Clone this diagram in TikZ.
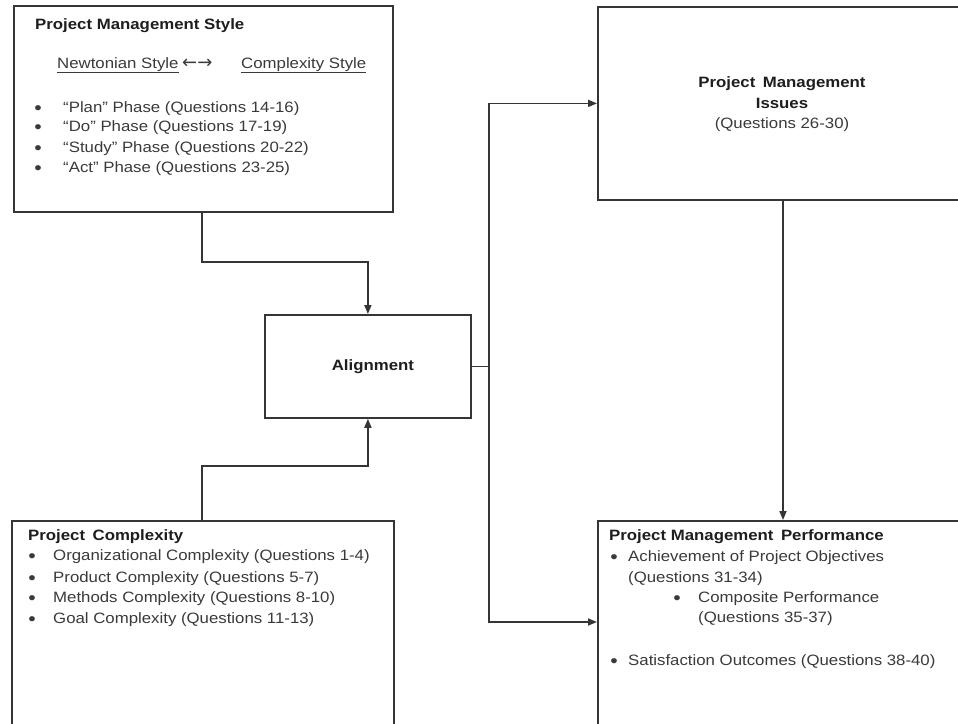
\documentclass[tikz,border=0pt]{standalone}
\usepackage{fontspec}
\setmainfont{Liberation Sans}
\newfontfamily\af[FakeStretch=1.12]{Liberation Sans}
\newfontfamily\dv{DejaVu Sans}
\usetikzlibrary{arrows.meta,calc}
\definecolor{linec}{HTML}{353535}
\definecolor{textc}{HTML}{3A3A3A}
\definecolor{titlec}{HTML}{1E1E1E}
\newcommand{\bul}{\raisebox{-2.5pt}{\fontsize{19}{18}\selectfont •}}
\tikzset{
  box/.style={draw=linec, line width=1.8pt, inner sep=0pt, anchor=north west},
  txt/.style={anchor=base west, inner sep=0pt, text=textc, font=\af\fontsize{15}{18}\selectfont},
  ttl/.style={txt, text=titlec, font=\af\bfseries\fontsize{15}{18}\selectfont},
  ctxt/.style={txt, anchor=base},
  cttl/.style={ttl, anchor=base},
  bult/.style={txt, anchor=base},
  conn/.style={draw=linec, line width=1.7pt},
  arr/.style={conn, -{Triangle[length=9pt,width=7pt]}}
}
\begin{document}
\begin{tikzpicture}[x=1pt,y=-1pt]
\useasboundingbox (0,0) rectangle (958,723);
\clip (0,0) rectangle (958,723);
\fill[white] (0,0) rectangle (958,723);

% boxes
\node[box, minimum width=379pt, minimum height=206pt] (pms) at (13,5) {};
\node[box, minimum width=382pt, minimum height=230pt] (pc) at (11,520) {};
\node[box, minimum width=206pt, minimum height=103pt, font=\af\bfseries\fontsize{15}{18}\selectfont, text=titlec] (al) at (264,314) {\hspace*{10pt}Alignment};
\node[box, minimum width=403pt, minimum height=193pt] (pmi) at (597,6) {};
\node[box, minimum width=403pt, minimum height=230pt] (pmp) at (597,520) {};

% Project Management Style
\node[ttl] (t1) at (35,29) {Project Management Style};
\node[txt] (n1) at (57,68) {\underline{Newtonian Style}};
\node[txt] (n2) at (182,68) {\dv\fontsize{18}{18}\selectfont ←→};
\node[txt] (n3) at (241,68) {\underline{Complexity Style}};
\node[bult] (b11) at (38,112) {\bul};
\node[txt] (l11) at (63,112) {“Plan” Phase (Questions 14-16)};
\node[bult] (b12) at (38,131) {\bul};
\node[txt] (l12) at (63,131) {“Do” Phase (Questions 17-19)};
\node[bult] (b13) at (38,152) {\bul};
\node[txt] (l13) at (63,152) {“Study” Phase (Questions 20-22)};
\node[bult] (b14) at (38,172) {\bul};
\node[txt] (l14) at (63,172) {“Act” Phase (Questions 23-25)};

% Project Complexity
\node[ttl] (t2) at (28,540) {Project\hspace{0.5em}Complexity};
\node[bult] (b21) at (32,560) {\bul};
\node[txt] (l21) at (53,560) {Organizational Complexity (Questions 1-4)};
\node[bult] (b22) at (32,582) {\bul};
\node[txt] (l22) at (53,582) {Product Complexity (Questions 5-7)};
\node[bult] (b23) at (32,602) {\bul};
\node[txt] (l23) at (53,602) {Methods Complexity (Questions 8-10)};
\node[bult] (b24) at (32,623) {\bul};
\node[txt] (l24) at (53,623) {Goal Complexity (Questions 11-13)};

% Project Management Issues
\node[cttl] (t3a) at (782,87) {Project\hspace{0.5em}Management};
\node[cttl] (t3b) at (782,108) {Issues};
\node[ctxt] (t3c) at (782,128) {(Questions 26-30)};

% Project Management Performance
\node[ttl] (t4) at (609,540) {Project Management\hspace{0.5em}Performance};
\node[bult] (b41) at (614,561) {\bul};
\node[txt] (l41) at (628,561) {Achievement of Project Objectives};
\node[txt] (l41b) at (628,582) {(Questions 31-34)};
\node[bult] (b42) at (677,602) {\bul};
\node[txt] (l42) at (698,602) {Composite Performance};
\node[txt] (l42b) at (698,622) {(Questions 35-37)};
\node[bult] (b43) at (614,665) {\bul};
\node[txt] (l43) at (628,665) {Satisfaction Outcomes (Questions 38-40)};

% connectors
\coordinate (j1) at (202,262);
\coordinate (j2) at (202,466);
\coordinate (bus) at (al.east -| 489,0);
\coordinate (j3) at (489,622);
\coordinate (j4) at (783,0);

\draw[arr] (j1 |- pms.south) -- (j1) -- (j1 -| al.north) -- (al.north);
\draw[arr] (j2 |- pc.north) -- (j2) -- (j2 -| al.south) -- (al.south);
\draw[conn] (al.east) -- (bus);
\draw[arr] (bus) |- (pmi.west);
\draw[arr] (bus) -- (j3) -- (j3 -| pmp.west);
\draw[arr] (j4 |- pmi.south) -- (j4 |- pmp.north);
\end{tikzpicture}
\end{document}
